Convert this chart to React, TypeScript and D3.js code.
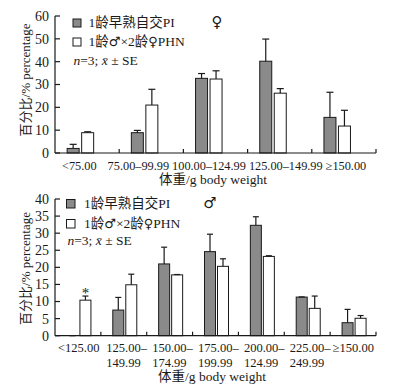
import React from "react";
import * as d3 from "d3";

// ---------- data ----------
const femCategories = ["<75.00", "75.00–99.99", "100.00–124.99", "125.00–149.99", "≥150.00"];
const femPI = [2.0, 8.9, 32.7, 40.2, 15.6];
const femPIErr = [1.8, 1.0, 2.1, 9.7, 11.0];
const femPHN = [8.9, 21.0, 32.4, 26.2, 11.8];
const femPHNErr = [0.4, 6.9, 3.6, 2.0, 6.9];
const femTicks = [0, 10, 20, 30, 40, 50, 60];

const maleCatLine1 = ["<125.00", "125.00–", "150.00–", "175.00–", "200.00–", "225.00–", "≥150.00"];
const maleCatLine2 = ["", "149.99", "174.99", "199.99", "124.99", "249.99", ""];
const malePI = [0, 7.5, 21.0, 24.6, 32.3, 11.3, 3.8];
const malePIErr = [0, 3.7, 4.9, 5.1, 2.5, 0.05, 3.9];
const malePHN = [10.4, 14.9, 17.8, 20.3, 23.2, 8.0, 5.1];
const malePHNErr = [1.2, 3.1, 0.1, 2.2, 0.2, 3.6, 0.8];
const maleSig = ["*", "", "", "", "", "", ""];
const maleTicks = [0, 5, 10, 15, 20, 25, 30, 35, 40];

const legendPI = "1龄早熟自交PI";
const legendPHN = "1龄♂×2龄♀PHN";
const yTitle = "百分比/% percentage";
const xTitle = "体重/g body weight";

const FONT = "'Liberation Serif', 'DejaVu Serif', 'Noto Sans CJK SC', serif";
const SYMFONT = "'DejaVu Sans', sans-serif";
const GRAY = "#8a8a8a";
const INK = "#1a1a1a";

type PanelProps = {
  cats: string[];
  pi: number[];
  piErr: number[];
  phn: number[];
  phnErr: number[];
  ticks: number[];
  yMax: number;
  yTopPx: number;
  yZeroPx: number;
  barW: number;
  gap: number;
  shift: number;
  capW: number;
  sig?: string[];
};

function Bars(p: PanelProps) {
  const x = d3.scaleBand<string>().domain(p.cats).range([55, 376]).padding(0);
  const y = d3.scaleLinear().domain([0, p.yMax]).range([p.yZeroPx, p.yTopPx]);
  const els: React.ReactNode[] = [];
  p.cats.forEach((c, i) => {
    const cx = (x(c) as number) + x.bandwidth() / 2 + p.shift;
    const gx = cx - p.gap / 2 - p.barW;
    const wx = cx + p.gap / 2;
    const series = [
      { x0: gx, v: p.pi[i], e: p.piErr[i], fill: GRAY, k: "g" },
      { x0: wx, v: p.phn[i], e: p.phnErr[i], fill: "#ffffff", k: "w" },
    ];
    series.forEach((s) => {
      const top = y(s.v);
      const et = y(s.v + s.e);
      const mx = s.x0 + p.barW / 2;
      if (s.v > 0)
        els.push(
          <rect key={`r${s.k}${i}`} x={s.x0} y={top} width={p.barW} height={p.yZeroPx - top}
            fill={s.fill} stroke={INK} strokeWidth={1} />
        );
      els.push(
        <line key={`e${s.k}${i}`} x1={mx} x2={mx} y1={top} y2={et} stroke={INK} strokeWidth={1.2} />,
        <line key={`c${s.k}${i}`} x1={mx - p.capW / 2} x2={mx + p.capW / 2} y1={et} y2={et} stroke={INK} strokeWidth={1.2} />
      );
      if (s.k === "w" && p.sig && p.sig[i])
        els.push(
          <text key={`s${i}`} x={mx} y={et + 2} textAnchor="middle" fontSize={15} fontFamily={FONT} fill={INK}>
            {p.sig[i]}
          </text>
        );
    });
  });
  // axes
  els.push(
    <line key="ya" x1={55} x2={55} y1={p.yTopPx} y2={p.yZeroPx} stroke={INK} strokeWidth={1.2} />,
    <line key="xa" x1={55} x2={376} y1={p.yZeroPx} y2={p.yZeroPx} stroke={INK} strokeWidth={1.2} />
  );
  p.ticks.forEach((t) => {
    els.push(
      <line key={`yt${t}`} x1={55} x2={60} y1={y(t)} y2={y(t)} stroke={INK} strokeWidth={1.2} />,
      <text key={`yl${t}`} x={49} y={y(t)} dy="0.35em" textAnchor="end" fontSize={14} fontFamily={FONT} fill={INK}>
        {t}
      </text>
    );
  });
  p.cats.forEach((c, i) => {
    if (i === 0) return;
    const bx = x(c) as number;
    els.push(<line key={`xt${i}`} x1={bx} x2={bx} y1={p.yZeroPx} y2={p.yZeroPx - 4} stroke={INK} strokeWidth={1.2} />);
  });
  els.push(<line key="xtend" x1={376} x2={376} y1={p.yZeroPx} y2={p.yZeroPx - 4} stroke={INK} strokeWidth={1.2} />);
  return <g>{els}</g>;
}

function withSymbols(s: string) {
  return s.split(/([♂♀])/).filter((t) => t.length).map((t, i) =>
    t === "♂" || t === "♀" ? (
      <tspan key={i} fontFamily={SYMFONT} fontSize={13}>{t}</tspan>
    ) : (
      <tspan key={i}>{t}</tspan>
    )
  );
}

function Legend({ x0, y1, y2, y3, tx, sym, symX, nx, sq }: any) {
  return (
    <g fontFamily={FONT} fill={INK} fontSize={13.5}>
      <rect x={x0} y={y1 - sq} width={sq} height={sq} fill={GRAY} stroke={INK} strokeWidth={1} />
      <text x={tx} y={y1}>{legendPI}</text>
      <text x={symX} y={y1} textAnchor="middle" fontSize={15} fontFamily={SYMFONT}>{sym}</text>
      <rect x={x0} y={y2 - sq} width={sq} height={sq} fill="#fff" stroke={INK} strokeWidth={1} />
      <text x={tx} y={y2}>{withSymbols(legendPHN)}</text>
      <text x={nx} y={y3}>
        <tspan fontStyle="italic">n</tspan>
        <tspan>=3; </tspan>
        <tspan fontStyle="italic">x&#772;</tspan>
        <tspan> ± SE</tspan>
      </text>
    </g>
  );
}

export default function App() {
  const femLabelGaps = [0, 11, 3, 3, 3];
  const xMale = d3.scaleBand<string>().domain(maleCatLine1.map((d, i) => d + i)).range([55, 376]).padding(0);
  return (
    <svg width={404} height={390} style={{ position: "absolute", left: 0, top: 0, background: "#fff" }}>
      <rect x={0} y={0} width={404} height={390} fill="#fff" />
      {/* ---------- top (female) ---------- */}
      <Bars cats={femCategories} pi={femPI} piErr={femPIErr} phn={femPHN} phnErr={femPHNErr}
        ticks={femTicks} yMax={60} yTopPx={16} yZeroPx={153} barW={12} gap={2.5} shift={-6.7} capW={7} />
      <Legend x0={73} y1={27} y2={46} y3={65} tx={88.5} sym="♀" symX={217} nx={73.5} sq={8} />
      <text x={62} y={170} fontSize={12.3} fontFamily={FONT} fill={INK}>
        {femCategories.map((c, i) => (
          <tspan key={c} dx={femLabelGaps[i]}>{c}</tspan>
        ))}
      </text>
      <text x={213} y={184} textAnchor="middle" fontSize={13.5} fontFamily={FONT} fill={INK}>{xTitle}</text>
      <text transform="translate(25,80) rotate(-90)" textAnchor="middle" dy="0.35em" fontSize={13} fontFamily={FONT} fill={INK}>
        {yTitle}
      </text>

      {/* ---------- bottom (male) ---------- */}
      <Bars cats={maleCatLine1.map((d, i) => d + i)} pi={malePI} piErr={malePIErr} phn={malePHN} phnErr={malePHNErr}
        ticks={maleTicks} yMax={40} yTopPx={199} yZeroPx={335.7} barW={11} gap={2} shift={1} capW={6} sig={maleSig} />
      <Legend x0={66.5} y1={208} y2={228} y3={245} tx={84} sym="♂" symX={210} nx={67.5} sq={8.5} />
      {maleCatLine1.map((c, i) => {
        const bx = (xMale(c + i) as number) + (i === 0 ? 3 : i === 6 ? 2.5 : 5.5);
        return (
          <text key={`ml${i}`} x={bx} y={351.5} fontSize={12.5} fontFamily={FONT} fill={INK}>
            <tspan>{c}</tspan>
            {maleCatLine2[i] ? <tspan x={bx} y={366.5}>{maleCatLine2[i]}</tspan> : null}
          </text>
        );
      })}
      <text x={212} y={381} textAnchor="middle" fontSize={13.5} fontFamily={FONT} fill={INK}>{xTitle}</text>
      <text transform="translate(25,268.5) rotate(-90)" textAnchor="middle" dy="0.35em" fontSize={13} fontFamily={FONT} fill={INK}>
        {yTitle}
      </text>
    </svg>
  );
}
